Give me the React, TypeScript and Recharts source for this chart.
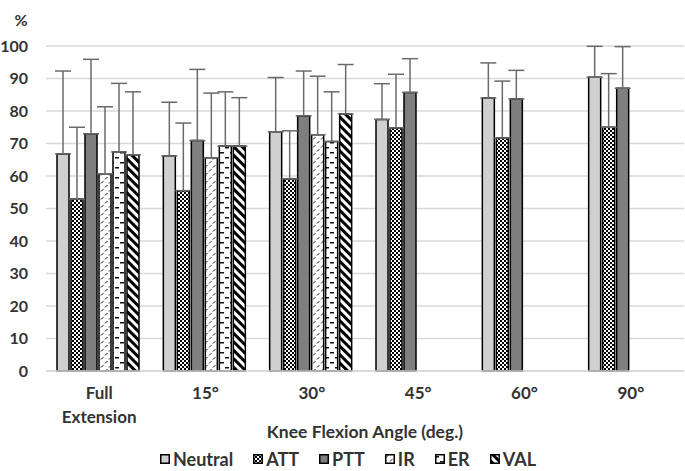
import React from 'react';
import { BarChart, Bar, XAxis, YAxis, CartesianGrid, ErrorBar, Legend } from 'recharts';

const categories = ['Full Extension', '15°', '30°', '45°', '60°', '90°'];
const yTicks = [0, 10, 20, 30, 40, 50, 60, 70, 80, 90, 100];

const neutral = [66.8, 66.2, 73.6, 77.4, 84.0, 90.4];
const neutralSD = [25.5, 16.5, 16.7, 11.0, 10.8, 9.5];
const att = [52.9, 55.5, 59.1, 74.8, 71.7, 75.0];
const attSD = [22.1, 20.8, 14.8, 16.5, 17.5, 16.5];
const ptt = [73.0, 70.9, 78.5, 85.7, 83.7, 87.0];
const pttSD = [22.9, 21.9, 13.8, 10.4, 8.8, 12.8];
const ir = [60.7, 65.6, 72.7, null, null, null];
const irSD = [20.6, 19.9, 18.0, null, null, null];
const er = [67.4, 69.2, 70.6, null, null, null];
const erSD = [21.1, 16.7, 15.3, null, null, null];
const val = [66.5, 69.2, 79.1, null, null, null];
const valSD = [19.4, 14.9, 15.2, null, null, null];

const seriesNames = ['Neutral', 'ATT', 'PTT', 'IR', 'ER', 'VAL'];
const seriesValues = [neutral, att, ptt, ir, er, val];
const seriesSD = [neutralSD, attSD, pttSD, irSD, erSD, valSD];
const seriesFills = ['#d0d0d0', 'url(#pAtt)', '#7f7f7f', 'url(#pIr)', 'url(#pEr)', 'url(#pVal)'];

const data = categories.map((cat, i) => {
  const row: any = { cat };
  seriesNames.forEach((name, s) => {
    row[name] = seriesValues[s][i];
    const sd = seriesSD[s][i];
    row[name + 'Err'] = sd == null ? null : [0, sd];
  });
  return row;
});

const FONT = 'Lato, "Open Sans", sans-serif';
const TEXT = '#333333';

const XTick = (props: any) => {
  const { x, y, payload } = props;
  const words = String(payload.value).split(' ');
  return (
    <text x={x} y={y} textAnchor="middle" fill={TEXT} fontFamily={FONT} fontWeight={700} fontSize={17}>
      {words.map((w, i) => (
        <tspan key={i} x={x} y={y + 20 + i * 24}>{w}</tspan>
      ))}
    </text>
  );
};

const renderLegend = () => (
  <div
    style={{
      display: 'flex',
      justifyContent: 'center',
      alignItems: 'center',
      height: 22,
      fontFamily: FONT,
      fontWeight: 700,
      fontSize: 18,
      color: TEXT,
      paddingLeft: 12,
    }}
  >
    {seriesNames.map((name, i) => (
      <span key={name} style={{ display: 'flex', alignItems: 'center', marginRight: i < seriesNames.length - 1 ? 20 : 0 }}>
        <svg width={10} height={10} style={{ marginRight: 3 }}>
          <rect x={0.75} y={0.75} width={8.5} height={8.5} fill={seriesFills[i]} stroke="#000" strokeWidth={1.5} />
        </svg>
        <span>{name}</span>
      </span>
    ))}
  </div>
);

export default function App() {
  return (
    <div style={{ position: 'fixed', left: 0, top: 0, width: 685, height: 471, background: '#fff' }}>
      <BarChart
        width={685}
        height={471}
        data={data}
        margin={{ top: 46, right: 1, left: 0, bottom: 1 }}
        barCategoryGap={11}
        barGap={2}
        style={{ fontFamily: FONT }}
      >
        <defs>
          <pattern id="pAtt" width={4} height={4} patternUnits="userSpaceOnUse">
            <rect width={4} height={4} fill="#fff" />
            <rect x={0} y={0} width={2} height={2} fill="#000" />
            <rect x={2} y={2} width={2} height={2} fill="#000" />
          </pattern>
          <pattern id="pIr" width={8} height={8} patternUnits="userSpaceOnUse">
            <rect width={8} height={8} fill="#fff" />
            <line x1={1} y1={3.5} x2={3.5} y2={1} stroke="#222" strokeWidth={1} />
            <line x1={5} y1={7.5} x2={7.5} y2={5} stroke="#222" strokeWidth={1} />
          </pattern>
          <pattern id="pEr" width={10} height={10} patternUnits="userSpaceOnUse">
            <rect width={10} height={10} fill="#fff" />
            <rect x={0} y={2} width={4} height={1.5} fill="#111" />
            <rect x={5} y={7} width={4} height={1.5} fill="#111" />
          </pattern>
          <pattern id="pVal" width={6} height={6} patternUnits="userSpaceOnUse" patternTransform="rotate(-45)">
            <rect width={6} height={6} fill="#fff" />
            <rect x={0} y={0} width={3} height={6} fill="#000" />
          </pattern>
        </defs>
        <CartesianGrid vertical={false} stroke="#d9d9d9" strokeWidth={1.5} />
        <XAxis
          dataKey="cat"
          axisLine={{ stroke: '#d9d9d9', strokeWidth: 1.5 }}
          tickLine={false}
          height={77}
          interval={0}
          tick={<XTick />}
          label={{
            value: 'Knee Flexion Angle (deg.)',
            position: 'insideBottom',
            offset: 10,
            fill: TEXT,
            fontFamily: FONT,
            fontWeight: 700,
            fontSize: 17.5,
          }}
        />
        <YAxis
          width={46}
          domain={[0, 100]}
          ticks={yTicks}
          axisLine={false}
          tickLine={false}
          tickSize={0}
          tickMargin={18}
          interval={0}
          tick={{ fill: TEXT, fontFamily: FONT, fontWeight: 700, fontSize: 16 }}
          label={{
            value: '%',
            position: 'top',
            offset: 20,
            dx: -2,
            fill: TEXT,
            fontFamily: FONT,
            fontWeight: 700,
            fontSize: 16,
          }}
        />
        <Legend verticalAlign="bottom" content={renderLegend} />
        {seriesNames.map((name, i) => (
          <Bar
            key={name}
            dataKey={name}
            name={name}
            fill={seriesFills[i]}
            stroke="#000"
            strokeWidth={1.5}
            isAnimationActive={false}
          >
            <ErrorBar dataKey={name + 'Err'} direction="y" width={8} stroke="#6a6a6a" strokeWidth={1.5} />
          </Bar>
        ))}
      </BarChart>
    </div>
  );
}
